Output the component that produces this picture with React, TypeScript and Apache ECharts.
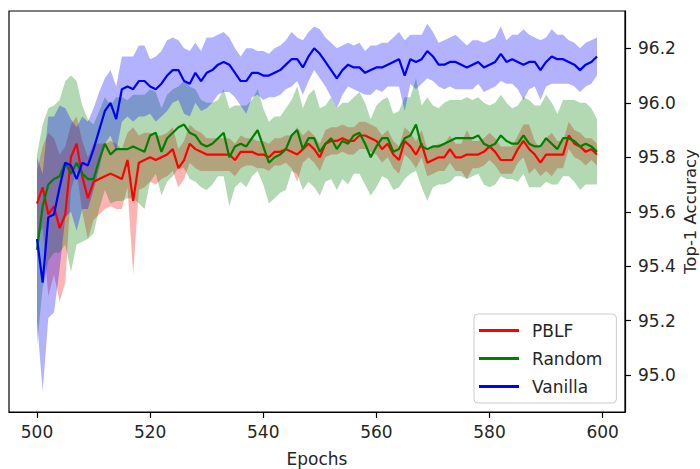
import React, { useEffect, useRef } from "react";
import * as echarts from "echarts";

const epochs: number[] = Array.from({ length: 100 }, (_, i) => 500 + i);

const pblfMean = [
  95.63, 95.69, 95.59, 95.62, 95.54, 95.59, 95.80, 95.85, 95.73, 95.65,
  95.71, 95.72, 95.73, 95.74, 95.73, 95.72, 95.79, 95.64, 95.78, 95.79,
  95.80, 95.79, 95.80, 95.81, 95.83, 95.76, 95.79, 95.85, 95.83, 95.82,
  95.81, 95.81, 95.81, 95.81, 95.81, 95.79, 95.82, 95.82, 95.82, 95.81,
  95.81, 95.80, 95.82, 95.82, 95.83, 95.82, 95.81, 95.83, 95.85, 95.83,
  95.80, 95.85, 95.86, 95.86, 95.87, 95.86, 95.86, 95.88, 95.88, 95.87,
  95.86, 95.83, 95.85, 95.81, 95.79, 95.86, 95.84, 95.81, 95.85, 95.78,
  95.79, 95.80, 95.80, 95.83, 95.80, 95.80, 95.81, 95.81, 95.81, 95.82,
  95.84, 95.82, 95.79, 95.79, 95.79, 95.83, 95.86, 95.83, 95.81, 95.78,
  95.81, 95.81, 95.81, 95.81, 95.88, 95.85, 95.84, 95.82, 95.83, 95.81,
];
const pblfStd = [
  0.12, 0.15, 0.30, 0.25, 0.27, 0.25, 0.12, 0.10, 0.13, 0.15,
  0.14, 0.13, 0.12, 0.12, 0.12, 0.11, 0.10, 0.27, 0.10, 0.10,
  0.09, 0.09, 0.08, 0.08, 0.08, 0.07, 0.07, 0.07, 0.07, 0.07,
  0.06, 0.06, 0.06, 0.06, 0.06, 0.06, 0.06, 0.05, 0.05, 0.05,
  0.05, 0.05, 0.05, 0.05, 0.05, 0.06, 0.10, 0.05, 0.05, 0.05,
  0.05, 0.05, 0.05, 0.05, 0.05, 0.05, 0.05, 0.05, 0.05, 0.05,
  0.05, 0.05, 0.05, 0.05, 0.05, 0.05, 0.05, 0.05, 0.05, 0.05,
  0.05, 0.05, 0.05, 0.05, 0.05, 0.05, 0.09, 0.05, 0.05, 0.05,
  0.05, 0.05, 0.05, 0.05, 0.05, 0.05, 0.06, 0.09, 0.05, 0.05,
  0.06, 0.08, 0.05, 0.05, 0.05, 0.05, 0.05, 0.05, 0.04, 0.04,
];

const randomMean = [
  95.46, 95.62, 95.70, 95.72, 95.73, 95.78, 95.74, 95.78, 95.74, 95.72,
  95.72, 95.79, 95.85, 95.81, 95.83, 95.83, 95.83, 95.84, 95.83, 95.82,
  95.88, 95.89, 95.82, 95.87, 95.89, 95.91, 95.92, 95.89, 95.88, 95.85,
  95.84, 95.85, 95.87, 95.89, 95.80, 95.84, 95.85, 95.84, 95.87, 95.90,
  95.84, 95.78, 95.80, 95.81, 95.83, 95.88, 95.90, 95.83, 95.87, 95.87,
  95.82, 95.85, 95.87, 95.83, 95.86, 95.85, 95.88, 95.89, 95.85, 95.80,
  95.84, 95.87, 95.87, 95.82, 95.83, 95.87, 95.88, 95.92, 95.84, 95.83,
  95.84, 95.84, 95.85, 95.86, 95.87, 95.87, 95.87, 95.87, 95.88, 95.85,
  95.84, 95.85, 95.88, 95.86, 95.85, 95.85, 95.88, 95.85, 95.84, 95.84,
  95.87, 95.85, 95.83, 95.87, 95.87, 95.86, 95.84, 95.85, 95.84, 95.82,
];
const randomStd = [
  0.35, 0.30, 0.28, 0.27, 0.28, 0.30, 0.36, 0.30, 0.25, 0.22,
  0.20, 0.18, 0.17, 0.18, 0.19, 0.19, 0.18, 0.19, 0.20, 0.21,
  0.17, 0.15, 0.16, 0.16, 0.16, 0.15, 0.16, 0.17, 0.17, 0.16,
  0.16, 0.15, 0.14, 0.16, 0.18, 0.15, 0.14, 0.15, 0.14, 0.15,
  0.14, 0.15, 0.15, 0.14, 0.15, 0.13, 0.16, 0.15, 0.16, 0.18,
  0.16, 0.14, 0.15, 0.15, 0.14, 0.15, 0.14, 0.15, 0.15, 0.14,
  0.15, 0.14, 0.15, 0.14, 0.14, 0.15, 0.14, 0.17, 0.15, 0.19,
  0.15, 0.14, 0.15, 0.15, 0.14, 0.14, 0.15, 0.14, 0.14, 0.15,
  0.15, 0.15, 0.15, 0.14, 0.13, 0.14, 0.14, 0.16, 0.15, 0.15,
  0.16, 0.15, 0.13, 0.14, 0.14, 0.15, 0.16, 0.15, 0.14, 0.12,
];

const vanillaMean = [
  95.50, 95.34, 95.58, 95.59, 95.69, 95.78, 95.77, 95.72, 95.78, 95.77,
  95.83, 95.90, 95.97, 96.00, 95.94, 96.05, 96.06, 96.05, 96.08, 96.08,
  96.06, 96.05, 96.07, 96.10, 96.12, 96.12, 96.08, 96.07, 96.11, 96.08,
  96.11, 96.12, 96.14, 96.15, 96.14, 96.11, 96.08, 96.08, 96.11, 96.11,
  96.10, 96.10, 96.11, 96.12, 96.14, 96.16, 96.16, 96.13, 96.17, 96.20,
  96.18, 96.15, 96.12, 96.09, 96.12, 96.14, 96.13, 96.13, 96.11, 96.12,
  96.13, 96.13, 96.14, 96.15, 96.16, 96.10, 96.16, 96.15, 96.16, 96.19,
  96.17, 96.14, 96.14, 96.15, 96.15, 96.14, 96.13, 96.14, 96.15, 96.13,
  96.14, 96.15, 96.18, 96.15, 96.16, 96.15, 96.14, 96.15, 96.15, 96.12,
  96.15, 96.17, 96.16, 96.16, 96.15, 96.14, 96.12, 96.14, 96.15, 96.17,
];
const vanillaStd = [
  0.30, 0.40, 0.37, 0.36, 0.30, 0.20, 0.17, 0.19, 0.17, 0.16,
  0.15, 0.14, 0.12, 0.12, 0.12, 0.12, 0.11, 0.12, 0.13, 0.13,
  0.10, 0.12, 0.12, 0.13, 0.12, 0.11, 0.12, 0.12, 0.11, 0.11,
  0.13, 0.12, 0.11, 0.11, 0.10, 0.09, 0.09, 0.12, 0.09, 0.08,
  0.09, 0.08, 0.09, 0.09, 0.09, 0.10, 0.08, 0.10, 0.09, 0.08,
  0.09, 0.09, 0.10, 0.11, 0.09, 0.08, 0.08, 0.09, 0.08, 0.09,
  0.08, 0.09, 0.08, 0.09, 0.10, 0.13, 0.09, 0.10, 0.09, 0.10,
  0.09, 0.08, 0.09, 0.09, 0.10, 0.09, 0.08, 0.09, 0.08, 0.09,
  0.09, 0.09, 0.10, 0.08, 0.09, 0.10, 0.13, 0.10, 0.09, 0.11,
  0.09, 0.10, 0.09, 0.09, 0.08, 0.08, 0.08, 0.08, 0.08, 0.07,
];

const xTicks = [500, 520, 540, 560, 580, 600];
const yTicks = [95.0, 95.2, 95.4, 95.6, 95.8, 96.0, 96.2];
const seriesNames = ["PBLF", "Random", "Vanilla"];

export default function App() {
  const ref = useRef<HTMLDivElement>(null);
  useEffect(() => {
    const chart = echarts.init(ref.current!, null, { renderer: "svg" });
    const font = "DejaVu Sans";
    const textColor = "#262626";
    const defs = [
      { name: seriesNames[0], mean: pblfMean, std: pblfStd, color: "#ff0000" },
      { name: seriesNames[1], mean: randomMean, std: randomStd, color: "#008000" },
      { name: seriesNames[2], mean: vanillaMean, std: vanillaStd, color: "#0000ff" },
    ];
    const series: any[] = [];
    defs.forEach((d) => {
      const bandData = epochs.map((e, i) => [e, d.mean[i] - d.std[i], d.mean[i] + d.std[i]]);
      series.push({
        name: d.name + " band",
        type: "custom",
        silent: true,
        z: 2,
        encode: { x: 0, y: [1, 2] },
        data: bandData,
        renderItem: (params: any, api: any) => {
          if (params.dataIndex !== 0) return null;
          const pts: number[][] = [];
          for (let i = 0; i < bandData.length; i++) {
            pts.push(api.coord([bandData[i][0], bandData[i][2]]));
          }
          for (let i = bandData.length - 1; i >= 0; i--) {
            pts.push(api.coord([bandData[i][0], bandData[i][1]]));
          }
          return {
            type: "polygon",
            shape: { points: pts },
            style: { fill: d.color, opacity: 0.3, stroke: "none" },
          };
        },
      });
    });
    defs.forEach((d) => {
      series.push({
        name: d.name,
        type: "line",
        data: epochs.map((e, i) => [e, d.mean[i]]),
        symbol: "none",
        color: d.color,
        lineStyle: { color: d.color, width: 2.2 },
        itemStyle: { color: d.color },
        z: 3,
      });
    });

    chart.setOption({
      animation: false,
      backgroundColor: "#ffffff",
      grid: {
        left: 9,
        right: 75,
        top: 11,
        bottom: 57,
        show: true,
        borderColor: "#000000",
        borderWidth: 1.2,
        outerBoundsMode: "none",
      },
      legend: {
        data: seriesNames,
        orient: "vertical",
        left: 474,
        top: 314,
        icon: "rect",
        itemWidth: 40,
        itemHeight: 3,
        itemGap: 11,
        padding: [8, 14, 8, 5],
        backgroundColor: "rgba(255,255,255,0.8)",
        borderColor: "#cccccc",
        borderWidth: 1,
        borderRadius: 4,
        textStyle: { fontFamily: font, fontSize: 17, color: textColor, padding: [0, 0, 0, 8] },
      },
      xAxis: {
        type: "value",
        min: 495.05,
        max: 603.95,
        name: "Epochs",
        nameLocation: "middle",
        nameGap: 38,
        nameMoveOverlap: false,
        nameTextStyle: { fontFamily: font, fontSize: 17, color: textColor },
        axisLine: { show: true, lineStyle: { color: "#000000", width: 1.2 } },
        axisTick: { show: true, length: 6, customValues: xTicks, lineStyle: { color: "#000000", width: 1.2 } },
        axisLabel: {
          customValues: xTicks,
          margin: 11,
          fontFamily: font,
          fontSize: 17,
          color: textColor,
        },
        splitLine: { show: false },
      },
      yAxis: {
        type: "value",
        position: "right",
        min: 94.865,
        max: 96.337,
        name: "Top-1 Accuracy",
        nameLocation: "middle",
        nameRotate: 90,
        nameGap: 57,
        nameMoveOverlap: false,
        nameTextStyle: { fontFamily: font, fontSize: 16.5, color: textColor },
        axisLine: { show: true, lineStyle: { color: "#000000", width: 1.2 } },
        axisTick: { show: true, length: 6, customValues: yTicks, lineStyle: { color: "#000000", width: 1.2 } },
        axisLabel: {
          customValues: yTicks,
          margin: 13,
          fontFamily: font,
          fontSize: 17,
          color: textColor,
          formatter: (v: number) => v.toFixed(1),
        },
        splitLine: { show: false },
      },
      series,
    });
    return () => chart.dispose();
  }, []);
  return (
    <div
      ref={ref}
      style={{ position: "fixed", left: 0, top: 0, width: 700, height: 469, background: "#fff" }}
    />
  );
}
